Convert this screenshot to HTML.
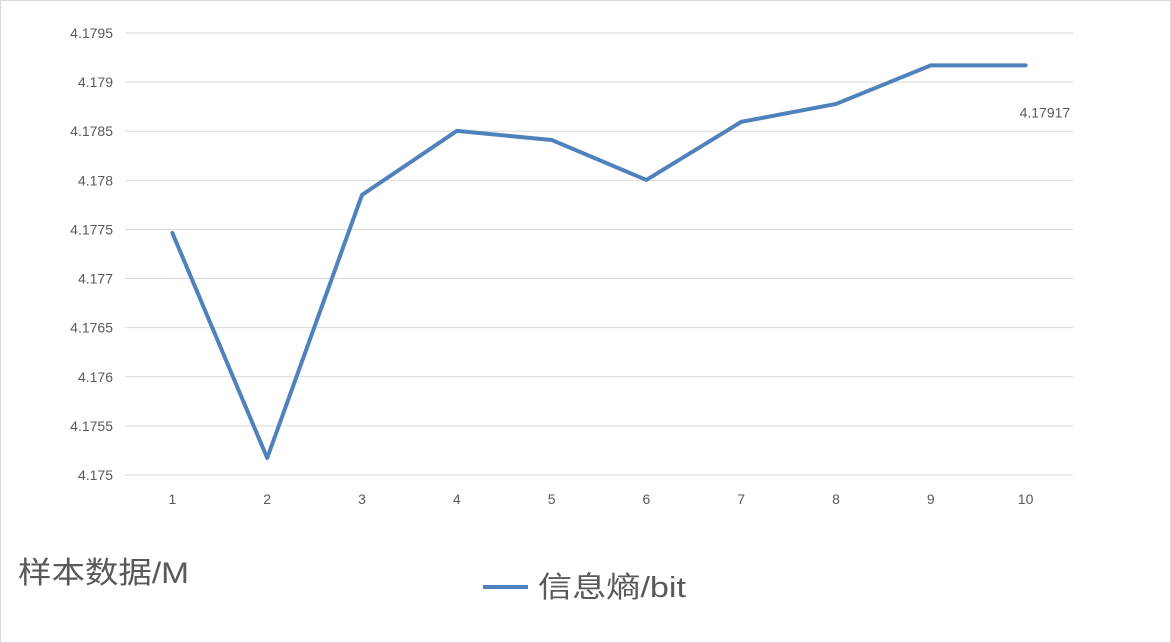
<!DOCTYPE html>
<html><head><meta charset="utf-8"><style>
html,body{margin:0;padding:0;background:#fff;}
svg{display:block;}
text{font-family:"Liberation Sans","Noto Sans CJK SC",sans-serif;fill:#595959;}
</style></head><body>
<svg id="chart" width="1171" height="643">
<rect x="0.5" y="0.5" width="1170" height="642" fill="#fff" stroke="#d9d9d9"/>
<g id="grid"></g><g id="yticks"></g><g id="xticks"></g><g id="series"></g>
<text x="18" y="583" font-size="30" textLength="171" lengthAdjust="spacingAndGlyphs">样本数据/M</text>
<g>
<line x1="483" y1="587" x2="528" y2="587" stroke="#4f81bd" stroke-width="4"/>
<text x="538" y="597" font-size="29" textLength="148" lengthAdjust="spacingAndGlyphs">信息熵/bit</text>
</g>
</svg>
<script>
const categories=[1,2,3,4,5,6,7,8,9,10];
const values=[4.177464,4.175173,4.177851,4.178503,4.178411,4.178004,4.178595,4.178778,4.17917,4.17917];
const yTicks=[4.175,4.1755,4.176,4.1765,4.177,4.1775,4.178,4.1785,4.179,4.1795];
const yTickLabels=["4.175","4.1755","4.176","4.1765","4.177","4.1775","4.178","4.1785","4.179","4.1795"];
const dataLabel="4.17917";
const NS="http://www.w3.org/2000/svg";
const X0=125,X1=1073,Ymin=4.175,Ymax=4.1795,PY0=475,PY1=33;
function xs(i){return X0+(X1-X0)*(i+0.5)/categories.length;}
function ys(v){return PY0-(v-Ymin)/(Ymax-Ymin)*(PY0-PY1);}
function mk(tag,attrs,parent){const e=document.createElementNS(NS,tag);for(const k in attrs)e.setAttribute(k,attrs[k]);document.getElementById(parent).appendChild(e);return e;}
yTicks.forEach((t,i)=>{
 const l=mk('line',{x1:X0,x2:X1,y1:ys(t),y2:ys(t),stroke:'#d9d9d9','stroke-width':1},'grid');
 
 
 const tx=mk('text',{x:113,y:ys(t)+5,'font-size':14,'text-anchor':'end'},'yticks');
 tx.textContent=yTickLabels[i];
 
 
});
categories.forEach((c,i)=>{
 const tx=mk('text',{x:xs(i),y:504,'font-size':14,'text-anchor':'middle'},'xticks');
 tx.textContent=c;
 
 
});
const pts=values.map((v,i)=>xs(i)+','+ys(v)).join(' ');
const pl=mk('polyline',{points:pts,fill:'none',stroke:'#4f81bd','stroke-width':4,'stroke-linejoin':'round','stroke-linecap':'round'},'series');


const n=values.length-1;
const dl=mk('text',{x:xs(n)-6,y:ys(values[n])+52,'font-size':14},'series');
dl.textContent=dataLabel;


</script>
</body></html>
